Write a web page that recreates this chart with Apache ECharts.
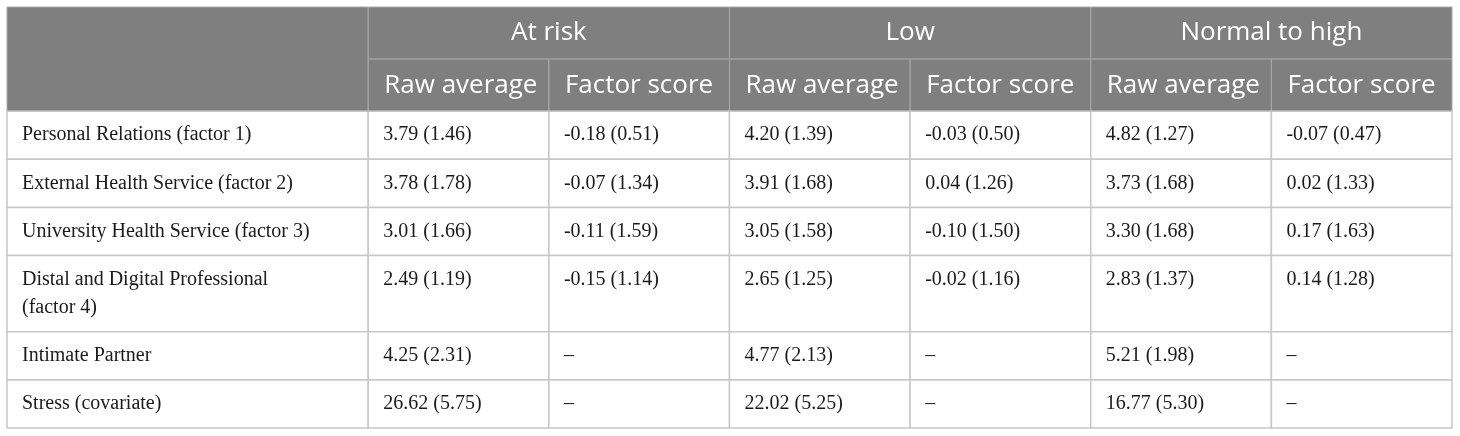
<!DOCTYPE html>
<html><head><meta charset="utf-8">
<script src="https://cdn.jsdelivr.net/npm/echarts@6/dist/echarts.min.js"></script>
<style>html,body{margin:0;padding:0;background:#fff}#c{width:1460px;height:436px}</style>
</head><body><div id="c"></div>
<script>
// ---- data ----
const groups = ['At risk', 'Low', 'Normal to high'];
const subHeaders = ['Raw average', 'Factor score'];
const rowLabels = [
  'Personal Relations (factor 1)',
  'External Health Service (factor 2)',
  'University Health Service (factor 3)',
  'Distal and Digital Professional\n(factor 4)',
  'Intimate Partner',
  'Stress (covariate)'
];
const atRiskRawMean = [3.79, 3.78, 3.01, 2.49, 4.25, 26.62];
const atRiskRawSD = [1.46, 1.78, 1.66, 1.19, 2.31, 5.75];
const atRiskFactorMean = [-0.18, -0.07, -0.11, -0.15, null, null];
const atRiskFactorSD = [0.51, 1.34, 1.59, 1.14, null, null];
const lowRawMean = [4.20, 3.91, 3.05, 2.65, 4.77, 22.02];
const lowRawSD = [1.39, 1.68, 1.58, 1.25, 2.13, 5.25];
const lowFactorMean = [-0.03, 0.04, -0.10, -0.02, null, null];
const lowFactorSD = [0.50, 1.26, 1.50, 1.16, null, null];
const normalRawMean = [4.82, 3.73, 3.30, 2.83, 5.21, 16.77];
const normalRawSD = [1.27, 1.68, 1.68, 1.37, 1.98, 5.30];
const normalFactorMean = [-0.07, 0.02, 0.17, 0.14, null, null];
const normalFactorSD = [0.47, 1.33, 1.63, 1.28, null, null];

// ---- layout ----
const HEADER_H = 52, LINE_H = 28, ROW_PAD = 20;
const LABEL_COL_UNITS = 2;

const columns = [
  [atRiskRawMean, atRiskRawSD], [atRiskFactorMean, atRiskFactorSD],
  [lowRawMean, lowRawSD], [lowFactorMean, lowFactorSD],
  [normalRawMean, normalRawSD], [normalFactorMean, normalFactorSD]
];
function fmt(m, s) { return m == null ? '\u2013' : m.toFixed(2) + ' (' + s.toFixed(2) + ')'; }

const cells = [];
cells.push([0, LABEL_COL_UNITS, 0, 2 * HEADER_H, '', 'corner']);
groups.forEach((g, i) => {
  cells.push([LABEL_COL_UNITS + 2 * i, LABEL_COL_UNITS + 2 * i + 2, 0, HEADER_H, g, 'h1']);
  subHeaders.forEach((s, j) => {
    const c = LABEL_COL_UNITS + 2 * i + j;
    cells.push([c, c + 1, HEADER_H, 2 * HEADER_H, s, 'h2']);
  });
});
let yTop = 2 * HEADER_H;
rowLabels.forEach((lab, r) => {
  const lines = lab.split('\n').length;
  const h = ROW_PAD + LINE_H * lines;
  cells.push([0, LABEL_COL_UNITS, yTop, yTop + h, lab, 'body']);
  columns.forEach((col, c) => {
    cells.push([LABEL_COL_UNITS + c, LABEL_COL_UNITS + c + 1, yTop, yTop + h, fmt(col[0][r], col[1][r]), 'body']);
  });
  yTop += h;
});
const totalH = yTop;
const totalW = LABEL_COL_UNITS + columns.length;

const chart = echarts.init(document.getElementById('c'), null, { renderer: 'canvas' });
chart.setOption({
  animation: false,
  grid: { left: 7, top: 7, width: 1445, height: 421 },
  xAxis: { type: 'value', min: 0, max: totalW, show: false },
  yAxis: { type: 'value', min: 0, max: totalH, inverse: true, show: false },
  series: [{
    type: 'custom',
    silent: true,
    clip: false,
    encode: { x: [0, 1], y: [2, 3] },
    data: cells,
    renderItem: function (params, api) {
      const p0 = api.coord([api.value(0), api.value(2)]);
      const p1 = api.coord([api.value(1), api.value(3)]);
      const kind = cells[params.dataIndex][5];
      const text = cells[params.dataIndex][4];
      const x = p0[0], y = p0[1], w = p1[0] - p0[0], h = p1[1] - p0[1];
      const isHead = kind !== 'body';
      const children = [{
        type: 'rect',
        shape: { x: x, y: y, width: w, height: h },
        style: isHead ? { fill: '#7f7f7f', stroke: '#a9a9a9', lineWidth: 1 }
                      : { fill: '#ffffff', stroke: '#c8c8c8', lineWidth: 1.5 }
      }];
      if (text) {
        let ts;
        if (kind === 'h1') {
          ts = { text: text, x: x + w / 2, y: y + h / 2, align: 'center', verticalAlign: 'middle',
                 fill: '#ffffff', fontFamily: 'Open Sans', fontSize: 26 };
        } else if (kind === 'h2') {
          ts = { text: text, x: x + 16, y: y + h / 2, align: 'left', verticalAlign: 'middle',
                 fill: '#ffffff', fontFamily: 'Open Sans', fontSize: 26 };
        } else {
          ts = { text: text, x: x + 15, y: y + 10, align: 'left', verticalAlign: 'top',
                 fill: '#1a1a1a', fontFamily: 'Liberation Serif', fontSize: 20, lineHeight: LINE_H };
        }
        children.push({ type: 'text', style: ts });
      }
      return { type: 'group', children: children };
    }
  }]
});
</script>
</body></html>
